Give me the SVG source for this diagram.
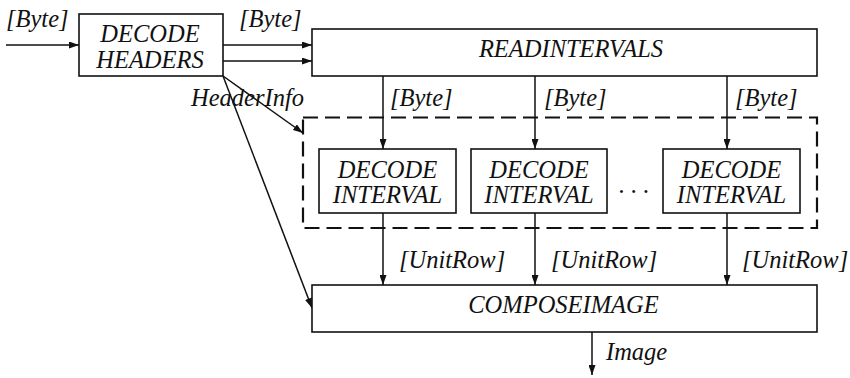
<svg xmlns="http://www.w3.org/2000/svg" width="850" height="378" viewBox="0 0 850 378">
<style>
.box{fill:#fff;stroke:#111;stroke-width:1.6}
.dash{fill:none;stroke:#111;stroke-width:2.2;stroke-dasharray:15 7}
.ln{fill:none;stroke:#111;stroke-width:1.5;marker-end:url(#ah)}
text{font-family:"Liberation Serif","Times New Roman",serif;font-style:italic;font-size:24.5px;fill:#111}
.c{text-anchor:middle}
</style>
<defs>
<marker id="ah" markerUnits="userSpaceOnUse" markerWidth="10" markerHeight="7" refX="10" refY="3.5" orient="auto">
<path d="M0,0 L10,3.5 L0,7 z" fill="#111"/>
</marker>
</defs>
<rect width="850" height="378" fill="#fff"/>
<g id="group-box">
<rect class="dash" x="303" y="117.5" width="514" height="110.5"/>
</g>
<g id="connectors">
<line class="ln" x1="6" y1="45" x2="79" y2="45"/>
<line class="ln" x1="223" y1="45" x2="312" y2="45"/>
<line class="ln" x1="223" y1="61" x2="312" y2="61"/>
<line class="ln" x1="223" y1="76" x2="303" y2="133"/>
<line class="ln" x1="223" y1="76" x2="312" y2="308"/>
<line class="ln" x1="383" y1="76" x2="383" y2="149"/>
<line class="ln" x1="535" y1="76" x2="535" y2="149"/>
<line class="ln" x1="727" y1="76" x2="727" y2="149"/>
<line class="ln" x1="383" y1="213" x2="383" y2="285"/>
<line class="ln" x1="535" y1="213" x2="535" y2="285"/>
<line class="ln" x1="727" y1="213" x2="727" y2="285"/>
<line class="ln" x1="592" y1="332" x2="592" y2="375"/>
<text x="6" y="27">[Byte]</text>
<text x="239" y="27">[Byte]</text>
<text x="191" y="106">HeaderInfo</text>
<text x="390" y="106">[Byte]</text>
<text x="544" y="106">[Byte]</text>
<text x="735" y="106">[Byte]</text>
<text x="399" y="268">[UnitRow]</text>
<text x="551" y="268">[UnitRow]</text>
<text x="742" y="268">[UnitRow]</text>
<text x="606" y="360">Image</text>
</g>
<g id="decode-headers">
<rect class="box" x="79" y="14" width="144" height="62"/>
<text class="c" x="150" y="42">DECODE</text>
<text class="c" x="150" y="67.5">HEADERS</text>
</g>
<g id="read-intervals">
<rect class="box" x="312" y="29" width="505" height="47"/>
<text class="c" x="571" y="57">READINTERVALS</text>
</g>
<g id="decode-interval-1">
<rect class="box" x="319" y="149" width="137" height="64"/>
<text class="c" x="387.5" y="178">DECODE</text>
<text class="c" x="387.5" y="203">INTERVAL</text>
</g>
<g id="decode-interval-2">
<rect class="box" x="471" y="149" width="136" height="64"/>
<text class="c" x="539" y="178">DECODE</text>
<text class="c" x="539" y="203">INTERVAL</text>
</g>
<g id="ellipsis">
<text x="618" y="200">· · ·</text>
</g>
<g id="decode-interval-3">
<rect class="box" x="663" y="149" width="137" height="64"/>
<text class="c" x="731.5" y="178">DECODE</text>
<text class="c" x="731.5" y="203">INTERVAL</text>
</g>
<g id="compose-image">
<rect class="box" x="312" y="285" width="505" height="47"/>
<text class="c" x="563.5" y="313">COMPOSEIMAGE</text>
</g>
</svg>
